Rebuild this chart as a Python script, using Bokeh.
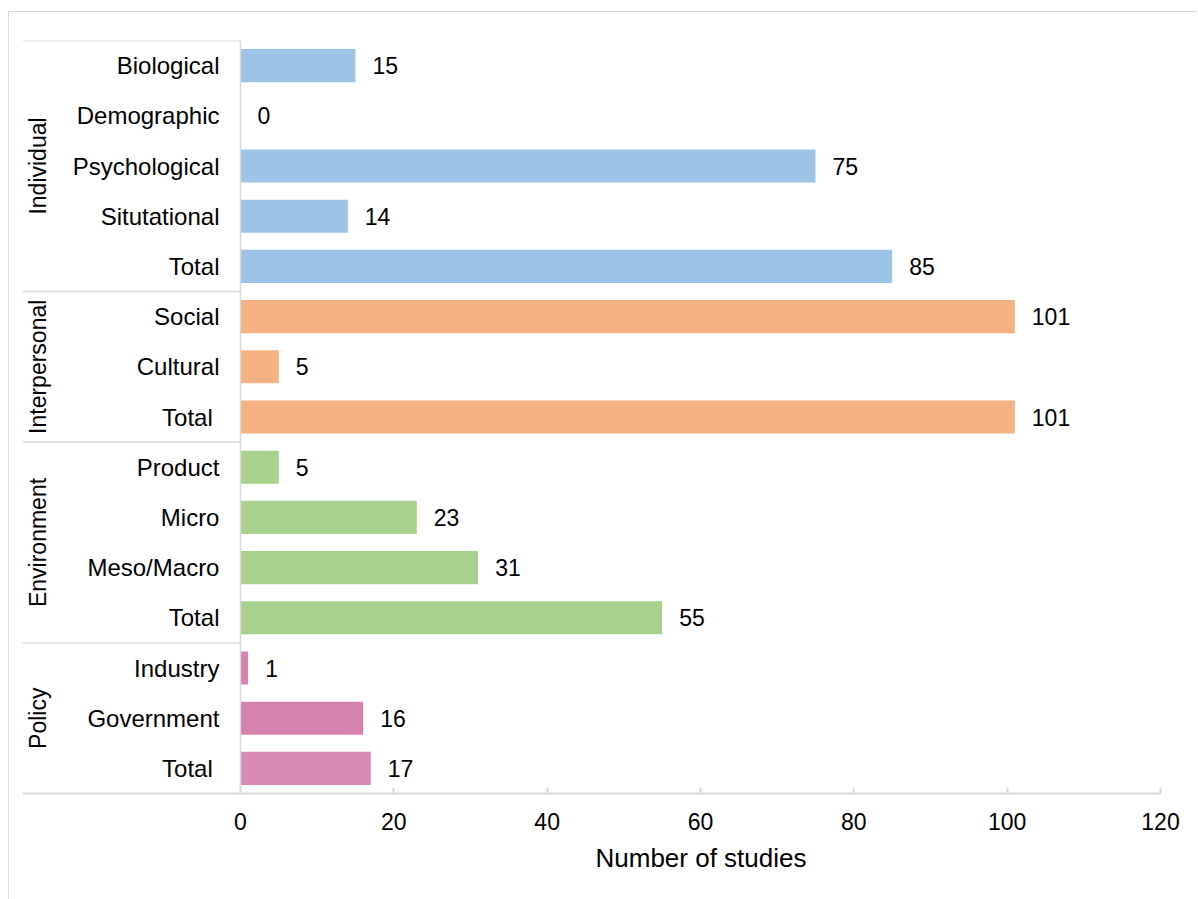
from bokeh.plotting import figure
from bokeh.models import FactorRange, Range1d, ColumnDataSource, FixedTicker, Title
from bokeh.core.properties import value
from bokeh.embed import file_html
from bokeh.resources import INLINE
import math

# ---------------- data ----------------
groups = ["Individual", "Interpersonal", "Environment", "Policy"]
individual_items = ["Biological", "Demographic", "Psychological", "Situtational", "Total"]
individual_counts = [15, 0, 75, 14, 85]
interpersonal_items = ["Social", "Cultural", "Total "]
interpersonal_counts = [101, 5, 101]
environment_items = ["Product", "Micro", "Meso/Macro", "Total"]
environment_counts = [5, 23, 31, 55]
policy_items = ["Industry", "Government", "Total "]
policy_counts = [1, 16, 17]
x_ticks = [0, 20, 40, 60, 80, 100, 120]
x_title = "Number of studies"

# ---------------- style ----------------
FONT = "Liberation Sans"
GRID = "#d9d9d9"
group_colors = {
    "Individual": "#9DC3E6",
    "Interpersonal": "#F4B183",
    "Environment": "#A9D18E",
    "Policy": "#D682AE",
}
policy_total_color = "#D98BB3"
X_MIN = -28.43  # room on the left for the category labels (inside the frame)
X_MAX = 120

items_by_group = [individual_items, interpersonal_items, environment_items, policy_items]
counts_by_group = [individual_counts, interpersonal_counts, environment_counts, policy_counts]

ys, xs, cols, labels, items = [], [], [], [], []
for g, its, cts in zip(groups, items_by_group, counts_by_group):
    for it, c in zip(its, cts):
        ys.append((g, it))
        xs.append(c)
        items.append(it)
        labels.append(str(c))
        if g == "Policy" and it.strip() == "Total":
            cols.append(policy_total_color)
        else:
            cols.append(group_colors[g])

factors = list(reversed(ys))  # first row at the top
y_range = FactorRange(factors=factors, group_padding=0, factor_padding=0, range_padding=0)

p = figure(width=1198, height=899, y_range=y_range, x_range=Range1d(X_MIN, X_MAX),
           output_backend="svg", toolbar_location=None, y_axis_location=None,
           min_border_left=22, min_border_right=38, min_border_top=40, min_border_bottom=106)
p.outline_line_color = None
p.xgrid.visible = False
p.ygrid.visible = False
p.background_fill_color = "white"
p.border_fill_color = "white"

src = ColumnDataSource(dict(y=ys, x=xs, color=cols, label=labels, item=items))

p.hbar(y="y", left=0, right="x", height=0.66, fill_color="color", line_color=None, source=src)

# value labels
p.text(x="x", y="y", text="label", source=src, x_offset=17, text_align="left",
       text_baseline="middle", text_font=value(FONT), text_font_size="23px", text_color="#000000")

# category labels
p.text(x=0, y="y", text="item", source=src, x_offset=-21, text_align="right",
       text_baseline="middle", text_font=value(FONT), text_font_size="24px", text_color="#000000")

# group labels
gsrc = ColumnDataSource(dict(y=groups, t=groups))
p.text(x=0, y="y", text="t", source=gsrc, x_offset=-202, angle=math.pi / 2, text_align="center",
       text_baseline="middle", text_font=value(FONT), text_font_size="23px", text_color="#000000")

# separators
sep_y = [(groups[0], items_by_group[0][0], 0.5)]
for g, its in zip(groups[:-1], items_by_group[:-1]):
    sep_y.append((g, its[-1], -0.5))
ssrc = ColumnDataSource(dict(y=sep_y))
p.segment(x0=X_MIN, x1=0, y0="y", y1="y", source=ssrc, line_color=GRID, line_width=1.5)

# vertical category axis line
vsrc = ColumnDataSource(dict(y0=[(groups[0], items_by_group[0][0], 0.5)],
                             y1=[(groups[-1], items_by_group[-1][-1], -0.5)]))
p.segment(x0=0, x1=0, y0="y0", y1="y1", source=vsrc, line_color=GRID, line_width=1.5)

# x axis (ticks / line)
ax = p.xaxis[0]
ax.ticker = FixedTicker(ticks=x_ticks)
ax.axis_line_color = GRID
ax.axis_line_width = 2
ax.major_tick_line_color = GRID
ax.major_tick_line_width = 2
ax.major_tick_in = 6
ax.major_tick_out = 0
ax.minor_tick_line_color = None
ax.major_label_text_font = FONT
ax.major_label_text_font_size = "23px"
ax.major_label_text_color = "#000000"
ax.major_label_standoff = 19

# axis title, centred under the value range (0..120)
p.add_layout(Title(text=x_title, align="right", offset=354, standoff=17,
                   text_font=FONT, text_font_size="26px", text_font_style="normal",
                   text_color="#000000"), "below")

# outer page border (top and left edges visible)
p.stylesheets = [":host::after { content: ''; position: absolute; left: 8px; top: 11px; "
                 "width: 1188px; height: 887px; border-top: 1.5px solid #d9d9d9; "
                 "border-left: 1.5px solid #d9d9d9; pointer-events: none; }"]

open("out.html", "w").write(file_html(p, INLINE))
